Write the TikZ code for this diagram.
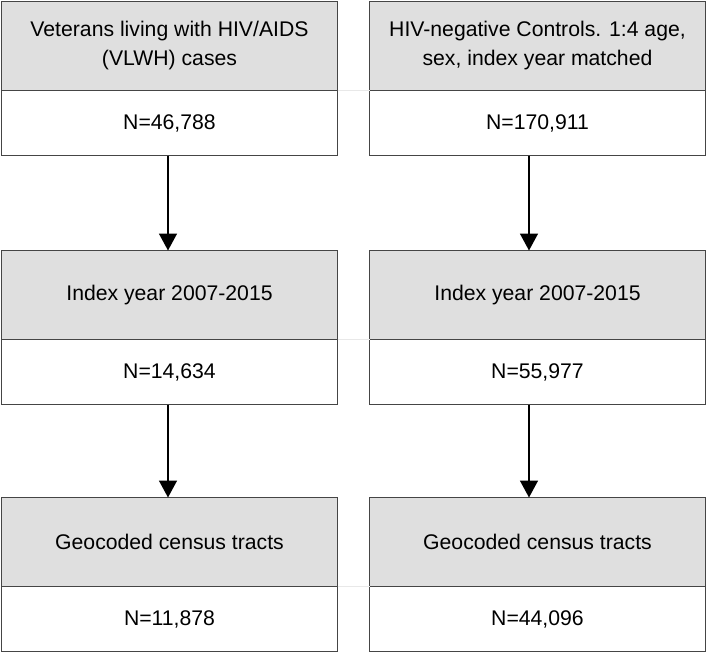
\documentclass[tikz,border=0pt]{standalone}
\usepackage{fontspec}
\setmainfont{Liberation Sans}
\usetikzlibrary{positioning,arrows.meta}
\definecolor{frame}{HTML}{454545}
\definecolor{headfill}{HTML}{DFDFDF}
\definecolor{seam}{HTML}{E8E8E8}

\begin{document}
\begin{tikzpicture}[
      x=0.5pt, y=-0.5pt,
      headcell/.style={draw=frame, line width=0.85pt, fill=headfill,
                       minimum width=168pt, minimum height=44.5pt,
                       align=center, inner sep=0pt, outer sep=0pt,
                       font=\fontsize{10.6pt}{14.5pt}\selectfont},
      countcell/.style={draw=frame, line width=0.85pt, fill=white,
                        minimum width=168pt, minimum height=32.5pt,
                        align=center, inner sep=0pt, outer sep=0pt,
                        font=\fontsize{10.6pt}{14.5pt}\selectfont},
      flow/.style={-{Triangle[length=8.5pt,width=9pt]}, line width=0.8pt, color=black},
      seamline/.style={draw=seam, line width=0.6pt},
    ]
      \useasboundingbox (0,0) rectangle (708,654);

      % left column: VLWH cases
      \node[headcell] (lh1) at (169.5,46) {Veterans living with HIV/AIDS\\(VLWH) cases};
      \node[countcell, below=0pt of lh1] (lv1) {N=46,788};
      \node[headcell, below=47.5pt of lv1] (lh2) {Index year 2007-2015};
      \node[countcell, below=0pt of lh2] (lv2) {N=14,634};
      \node[headcell, below=46.5pt of lv2] (lh3) {Geocoded census tracts};
      \node[countcell, below=0pt of lh3] (lv3) {N=11,878};

      % right column: matched controls
      \node[headcell, right=16pt of lh1] (rh1) {HIV-negative Controls. 1:4 age,\\sex, index year matched};
      \node[countcell, below=0pt of rh1] (rv1) {N=170,911};
      \node[headcell, right=16pt of lh2] (rh2) {Index year 2007-2015};
      \node[countcell, below=0pt of rh2] (rv2) {N=55,977};
      \node[headcell, right=16pt of lh3] (rh3) {Geocoded census tracts};
      \node[countcell, below=0pt of rh3] (rv3) {N=44,096};

      \draw[seamline] (lv1.north east) -- (rv1.north west);
      \draw[seamline] (lv2.north east) -- (rv2.north west);
      \draw[seamline] (lv3.north east) -- (rv3.north west);

      \draw[flow] ([xshift=-0.75pt]lv1.south) -- ([xshift=-0.75pt]lh2.north);
      \draw[flow] ([xshift=-0.75pt]lv2.south) -- ([xshift=-0.75pt]lh3.north);
      \draw[flow] ([xshift=-4.25pt]rv1.south) -- ([xshift=-4.25pt]rh2.north);
      \draw[flow] ([xshift=-4.25pt]rv2.south) -- ([xshift=-4.25pt]rh3.north);

    \end{tikzpicture}
\end{document}
